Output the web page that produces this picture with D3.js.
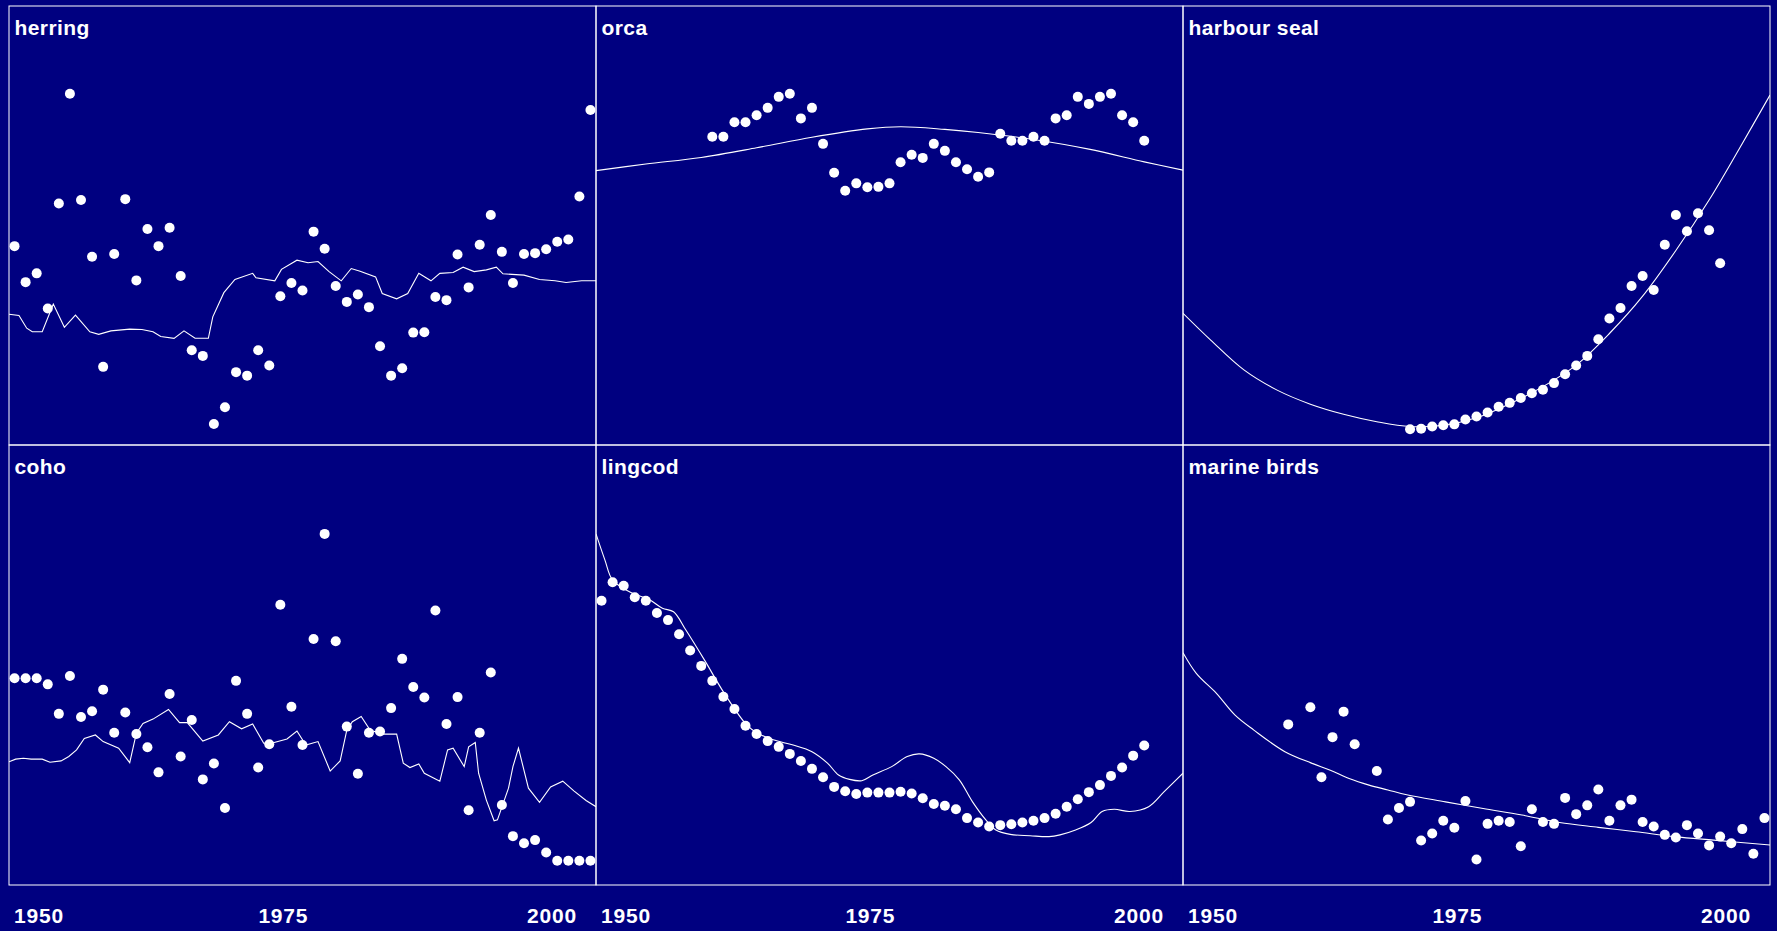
<!DOCTYPE html>
<html lang="en">
<head>
<meta charset="UTF-8">
<title>Population indices, 1950-2003</title>
<script src="https://cdnjs.cloudflare.com/ajax/libs/d3/7.8.5/d3.min.js"></script>
<style>
  html, body { margin: 0; padding: 0; background: #000080; overflow: hidden; }
  svg { display: block; }
  .title { font-family: "Liberation Sans", Arial, sans-serif; font-weight: bold; font-size: 21px; fill: #fff; letter-spacing: 0.4px; }
  .tick { font-family: "Liberation Sans", Arial, sans-serif; font-weight: bold; font-size: 21px; fill: #fff; letter-spacing: 0.8px; }
</style>
</head>
<body>
<div id="chart"></div>
<script>
// Panel names, in reading order (row by row)
const species = ["herring", "orca", "harbour seal", "coho", "lingcod", "marine birds"];
const tickYears = [1950, 1975, 2000];

// Observed index values (no y axis in the original, so values are relative 0-100)
const herringStart = 1951;
const herringObs = [45.3, 37.1, 39.1, 31.1, 55.0, 80.0, 55.8, 42.9, 17.8, 43.5,
  56.0, 37.5, 49.2, 45.3, 49.5, 38.5, 21.6, 20.3, 4.8, 8.6,
  16.6, 15.8, 21.6, 18.1, 33.9, 36.9, 35.2, 48.6, 44.7, 36.2,
  32.6, 34.3, 31.4, 22.5, 15.8, 17.5, 25.6, 25.7, 33.7, 33.0,
  43.4, 35.9, 45.6, 52.4, 44.0, 36.9, 43.5, 43.7, 44.6, 46.3,
  46.8, 56.6, 76.3];

const orcaStart = 1961;
const orcaObs = [70.2, 70.2, 73.5, 73.5, 75.1, 76.8, 79.3, 80.0, 74.4, 76.8,
  68.6, 62.0, 57.9, 59.6, 58.7, 58.8, 59.6, 64.4, 66.1, 65.4,
  68.6, 67.0, 64.4, 62.8, 61.1, 62.1, 70.9, 69.3, 69.3, 70.2,
  69.3, 74.4, 75.1, 79.3, 77.7, 79.3, 80.0, 75.1, 73.5, 69.3];

const sealStart = 1971;
const sealObs = [3.6, 3.7, 4.2, 4.5, 4.7, 5.8, 6.5, 7.4, 8.7, 9.6,
  10.7, 11.8, 12.6, 14.1, 16.1, 18.1, 20.3, 24.1, 28.8, 31.2,
  36.2, 38.5, 35.3, 45.6, 52.4, 48.7, 52.8, 48.9, 41.4];

const cohoStart = 1951;
const cohoObs = [47.0, 47.0, 47.0, 45.6, 38.9, 47.5, 38.2, 39.5, 44.4, 34.6,
  39.2, 34.3, 31.3, 25.6, 43.4, 29.2, 37.5, 24.0, 27.6, 17.5,
  46.4, 38.9, 26.7, 32.0, 63.7, 40.5, 31.8, 55.9, 79.8, 55.4,
  36.0, 25.3, 34.6, 34.9, 40.2, 51.4, 45.0, 42.6, 62.4, 36.6,
  42.7, 17.0, 34.6, 48.3, 18.2, 11.1, 9.5, 10.2, 7.4, 5.5,
  5.5, 5.5, 5.5];

const lingcodStart = 1951;
const lingcodObs = [64.6, 68.8, 68.0, 65.4, 64.6, 61.8, 60.2, 57.0, 53.3, 49.8,
  46.4, 42.8, 40.0, 36.2, 34.3, 32.7, 31.4, 29.8, 28.2, 26.4,
  24.5, 22.3, 21.3, 20.7, 21.0, 21.0, 21.0, 21.2, 20.8, 19.7,
  18.4, 18.0, 17.2, 15.2, 14.2, 13.3, 13.6, 13.8, 14.2, 14.6,
  15.2, 16.2, 17.8, 19.5, 21.1, 22.7, 24.8, 26.7, 29.4, 31.7];

const birdYears = [1960, 1962, 1963, 1964, 1965, 1966, 1968, 1969, 1970, 1971,
  1972, 1973, 1974, 1975, 1976, 1977, 1978, 1979, 1980, 1981,
  1982, 1983, 1984, 1985, 1986, 1987, 1988, 1989, 1990, 1991,
  1992, 1993, 1994, 1995, 1996, 1997, 1998, 1999, 2000, 2001,
  2002, 2003];
const birdObs = [36.5, 40.4, 24.5, 33.6, 39.4, 32.0, 25.9, 14.9, 17.5, 18.9,
  10.1, 11.7, 14.6, 13.0, 19.1, 5.8, 13.9, 14.6, 14.3, 8.8,
  17.2, 14.3, 13.9, 19.8, 16.1, 18.1, 21.7, 14.6, 18.1, 19.4,
  14.3, 13.3, 11.4, 10.8, 13.6, 11.7, 9.0, 11.0, 9.5, 12.7,
  7.1, 15.2];

// Fitted model curves, [year, value]
const herringFit = [[1950.5, 29.8], [1951.4, 29.5], [1952.1, 26.6], [1952.6, 25.8], [1953.5, 25.8],
  [1954.5, 32.1], [1955.5, 26.8], [1956.5, 29.6], [1957.8, 25.8], [1958.6, 25.2],
  [1959.7, 26.0], [1961.4, 26.4], [1962.5, 26.3], [1963.5, 25.8], [1964.2, 24.7],
  [1965.4, 24.3], [1966.3, 26.0], [1967.3, 24.3], [1968.5, 24.3], [1968.9, 29.2],
  [1969.9, 34.7], [1970.9, 37.7], [1972.5, 39.1], [1972.8, 38.1], [1974.5, 37.4],
  [1975.1, 40.0], [1976.5, 42.1], [1977.5, 41.5], [1978.4, 41.8], [1979.4, 39.5],
  [1980.5, 37.4], [1981.4, 40.2], [1982.2, 39.6], [1983.6, 38.3], [1984.2, 34.5],
  [1985.5, 33.3], [1986.5, 34.5], [1987.5, 39.1], [1988.6, 37.4], [1989.4, 39.1],
  [1990.6, 39.3], [1991.5, 40.5], [1992.5, 39.5], [1993.6, 39.9], [1994.5, 40.5],
  [1995.1, 39.0], [1997.0, 38.7], [1998.4, 37.7], [1999.8, 37.4], [2000.8, 37.0],
  [2002.2, 37.4], [2003.5, 37.4]];

const orcaFit = [[1950.5, 62.5], [1955, 64.0], [1960, 65.5], [1965, 67.7], [1970, 70.1],
  [1975, 72.0], [1978, 72.5], [1982, 71.9], [1985, 71.2], [1990, 69.6],
  [1995, 67.4], [2000, 64.5], [2003.5, 62.6]];

const sealFit = [[1950.5, 30.0], [1953, 23.9], [1956, 17.1], [1959, 12.5], [1962, 9.3],
  [1965, 7.0], [1968, 5.3], [1971, 4.2], [1974, 4.5], [1977, 6.2],
  [1980, 9.4], [1983, 13.3], [1986, 18.2], [1989, 25.4], [1992, 33.9],
  [1995, 44.3], [1998, 55.8], [2001, 68.7], [2003.5, 79.7]];

const cohoFit = [[1950.5, 28.0], [1951.1, 28.6], [1951.8, 28.8], [1952.5, 28.6], [1953.5, 28.6],
  [1954.2, 27.9], [1955.2, 28.2], [1955.9, 29.2], [1956.6, 30.7], [1957.3, 33.3],
  [1958.3, 34.1], [1959.0, 32.6], [1960.4, 31.1], [1961.4, 27.8], [1962.0, 34.5],
  [1962.6, 36.7], [1963.5, 37.7], [1964.9, 39.9], [1965.9, 36.9], [1966.6, 36.9],
  [1968.0, 32.7], [1969.4, 34.1], [1970.4, 37.1], [1971.5, 35.5], [1972.5, 36.6],
  [1973.5, 32.2], [1974.2, 32.2], [1975.6, 33.2], [1976.5, 35.0], [1977.3, 31.8],
  [1978.4, 32.6], [1979.5, 25.9], [1980.4, 28.2], [1981.0, 35.2], [1981.5, 37.1],
  [1982.3, 38.3], [1983.1, 35.2], [1984.2, 34.3], [1985.5, 34.3], [1986.1, 27.7],
  [1986.7, 26.7], [1987.5, 27.5], [1988.0, 25.4], [1989.4, 23.6], [1990.1, 30.7],
  [1990.6, 31.1], [1991.6, 26.9], [1992.0, 31.4], [1992.6, 32.4], [1992.9, 25.4],
  [1993.6, 19.3], [1994.3, 14.6], [1994.6, 14.8], [1995.6, 22.0], [1996.0, 26.9],
  [1996.5, 31.1], [1997.4, 22.0], [1998.4, 18.8], [1999.4, 22.3], [2000.5, 23.6],
  [2001.5, 21.4], [2002.6, 19.2], [2003.5, 17.8]];

const lingcodFit = [[1950.5, 79.8], [1951.3, 73.9], [1952.0, 69.3], [1953.8, 66.3], [1955.3, 64.9],
  [1956.5, 62.9], [1957.5, 62.1], [1958.6, 58.0], [1960.3, 51.1], [1962.0, 43.9],
  [1964.1, 36.4], [1965.1, 34.5], [1966.5, 33.0], [1968.3, 31.8], [1970.0, 30.3],
  [1971.4, 27.7], [1972.4, 25.0], [1973.4, 24.0], [1974.5, 23.7], [1975.5, 25.0],
  [1977.2, 26.9], [1978.6, 29.2], [1979.7, 29.8], [1981.0, 28.8], [1982.1, 26.9],
  [1983.3, 23.9], [1984.5, 18.9], [1985.7, 14.8], [1986.6, 12.5], [1987.9, 11.5],
  [1989.7, 11.2], [1991.4, 11.0], [1992.4, 11.4], [1993.8, 12.5], [1995.2, 14.2],
  [1996.2, 16.7], [1997.3, 17.2], [1998.7, 16.7], [2000.4, 17.8], [2001.8, 21.2],
  [2003.5, 25.4]];

const birdFit = [[1950.5, 52.8], [1951.7, 48.1], [1953.5, 43.6], [1955.2, 38.6], [1956.9, 35.2],
  [1959.7, 30.3], [1962.1, 27.7], [1963.8, 26.1], [1965.5, 24.2], [1967.3, 22.7],
  [1969.0, 21.6], [1970.7, 20.5], [1974.2, 18.9], [1977.6, 17.4], [1981.1, 15.9],
  [1984.5, 14.2], [1988.0, 13.1], [1991.4, 12.1], [1994.9, 11.0], [1998.4, 10.2],
  [2003.5, 9.1]];

// Build the panel table from the arrays above
const consecutive = (start, vals) => vals.map((v, i) => [start + i, v]);
const smooth = d3.curveCatmullRom.alpha(0.5);
const panels = [
  { name: species[0], obs: consecutive(herringStart, herringObs), fit: herringFit, curve: d3.curveLinear },
  { name: species[1], obs: consecutive(orcaStart, orcaObs), fit: orcaFit, curve: smooth },
  { name: species[2], obs: consecutive(sealStart, sealObs), fit: sealFit, curve: smooth },
  { name: species[3], obs: consecutive(cohoStart, cohoObs), fit: cohoFit, curve: d3.curveLinear },
  { name: species[4], obs: consecutive(lingcodStart, lingcodObs), fit: lingcodFit, curve: smooth },
  { name: species[5], obs: birdYears.map((y, i) => [y, birdObs[i]]), fit: birdFit, curve: smooth }
];

// Layout
const width = 1777;
const height = 931;
const gridLeft = 9;
const panelW = 587;
const rowEdges = [6, 445, 885];
const cols = 3;

const svg = d3.select("#chart")
  .append("svg")
  .attr("width", width)
  .attr("height", height);

svg.append("rect")
  .attr("width", width)
  .attr("height", height)
  .attr("fill", "#000080");

const x = d3.scaleLinear()
  .domain([1950.5, 2003.5])
  .range([0, panelW]);

const defs = svg.append("defs");

panels.forEach((p, i) => {
  const c = i % cols;
  const r = Math.floor(i / cols);
  const left = gridLeft + c * panelW;
  const top = rowEdges[r];
  const h = rowEdges[r + 1] - rowEdges[r];

  const y = d3.scaleLinear().domain([0, 100]).range([h, 0]);

  const g = svg.append("g").attr("transform", `translate(${left},${top})`);

  defs.append("clipPath")
    .attr("id", "clip" + i)
    .append("rect")
    .attr("width", panelW)
    .attr("height", h);

  // fitted curve
  const line = d3.line()
    .x(d => x(d[0]))
    .y(d => y(d[1]))
    .curve(p.curve);

  g.append("path")
    .datum(p.fit)
    .attr("clip-path", `url(#clip${i})`)
    .attr("d", line)
    .attr("fill", "none")
    .attr("stroke", "#ffffff")
    .attr("stroke-width", 1.1);

  // observations
  g.selectAll("circle")
    .data(p.obs)
    .enter()
    .append("circle")
    .attr("cx", d => x(d[0]))
    .attr("cy", d => y(d[1]))
    .attr("r", 5)
    .attr("fill", "#ffffff");

  // panel frame
  g.append("rect")
    .attr("width", panelW)
    .attr("height", h)
    .attr("fill", "none")
    .attr("stroke", "#ffffff")
    .attr("stroke-width", 1);

  g.append("text")
    .attr("class", "title")
    .attr("x", 5.5)
    .attr("y", 28.5)
    .text(p.name);

  // year labels under the bottom row, kept inside the panel width
  if (r === 1) {
    tickYears.forEach(t => {
      const lbl = g.append("text")
        .attr("class", "tick")
        .attr("y", rowEdges[2] - top + 38)
        .attr("text-anchor", "middle")
        .text(t);
      const w = lbl.node().getComputedTextLength();
      let cx = x(t) + 3;
      cx = Math.max(cx, 5 + w / 2);
      cx = Math.min(cx, 568 - w / 2);
      lbl.attr("x", cx);
    });
  }
});
</script>
</body>
</html>
